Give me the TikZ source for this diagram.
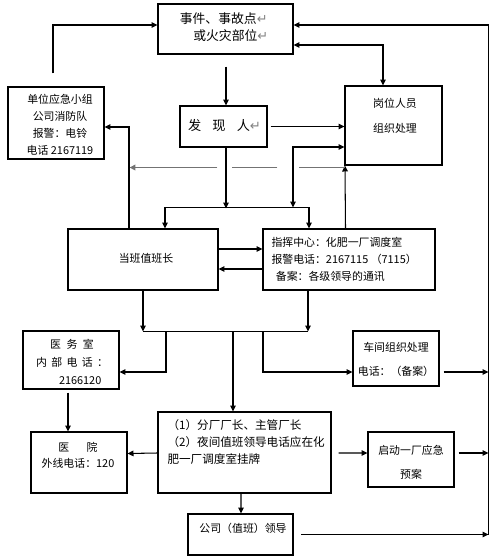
\documentclass[tikz,border=0pt]{standalone}
\usepackage{fontspec}
\setmainfont{Noto Sans CJK SC}
\newfontfamily\symfont{DejaVu Sans}
\usepackage{tikz}
\usetikzlibrary{arrows.meta,calc}
\newcommand{\retmark}{{\symfont\color{gray}↵}}

\begin{document}
\begin{tikzpicture}[x=0.02cm, y=-0.02cm, line width=0.6pt,
    >={Triangle[length=3.4pt,width=3.2pt]},
    box/.style={draw, line width=0.6pt, inner sep=0pt},
    big/.style={font=\fontsize{7.3}{9.6}\selectfont, align=left, inner sep=0pt},
    lbl/.style={font=\fontsize{6.2}{9.7}\selectfont, align=center, inner sep=0pt}]
  \useasboundingbox (0,0) rectangle (495,560);

  % Define nodes
  \node[box, minimum width=2.70cm, minimum height=1.00cm] (top) at (225.5,29) {};
  \node[box, minimum width=1.74cm, minimum height=0.82cm] (faxian) at (223.5,126.5) {};
  \node[box, minimum width=1.92cm, minimum height=1.44cm] (danwei) at (56,123) {};
  \node[box, minimum width=1.94cm, minimum height=1.58cm] (gangwei) at (393.5,125.5) {};
  \node[box, minimum width=3.00cm, minimum height=1.22cm] (dangban) at (143,259.5) {};
  \node[box, minimum width=3.44cm, minimum height=1.22cm] (zhihui) at (349,259.5) {};
  \node[box, minimum width=1.92cm, minimum height=1.16cm] (yiwu) at (71,360) {};
  \node[box, minimum width=1.72cm, minimum height=1.10cm] (chejian) at (396,358.5) {};
  \node[box, minimum width=1.92cm, minimum height=1.22cm] (yiyuan) at (79,462.5) {};
  \node[box, minimum width=3.46cm, minimum height=1.62cm] (lingdao) at (244.5,452.5) {};
  \node[box, minimum width=1.72cm, minimum height=1.10cm] (qidong) at (411,459.5) {};
  \node[box, minimum width=2.10cm, minimum height=0.82cm] (gongsi) at (240.5,534.5) {};

  % Texts
  \node[big] (t-top) at (224,27) {事件、事故点\retmark\\\hspace{1.05em}或火灾部位\retmark};
  \node[big, font=\fontsize{7.5}{9}\selectfont] (t-faxian) at (224.5,125) {发\hspace{0.85em}现\hspace{0.85em}人\retmark};
  \node[lbl] (t-danwei) at (60,125) {单位应急小组\\公司消防队\\报警：电铃\\电话 2167119};
  \node[lbl, font=\fontsize{6.2}{14}\selectfont] (t-gangwei) at (395,116) {岗位人员\\组织处理};
  \node[lbl] (t-dangban) at (146,258) {当班值班长};
  \node[lbl, align=left, anchor=west] (t-zhihui) at (271,259) {指挥中心：化肥一厂调度室\\报警电话：2167115 （7115）\\\hspace{0.4em}备案：各级领导的通讯};
  \node[lbl, font=\fontsize{6.2}{10.2}\selectfont] (t-yiwu) at (72,362) {医\hspace{0.5em}务\hspace{0.5em}室\\内\hspace{0.4em}部\hspace{0.4em}电\hspace{0.4em}话\hspace{0.4em}：\\\hspace{1.5em}2166120};
  \node[lbl, font=\fontsize{6.2}{14}\selectfont] (t-chejian) at (396,359.5) {车间组织处理\\电话：（备案）};
  \node[lbl, font=\fontsize{6.2}{9}\selectfont] (t-yiyuan) at (78,455) {医\hspace{1.6em}院\\外线电话：120};
  \node[lbl, align=left, anchor=west, font=\fontsize{6.6}{9.9}\selectfont] (t-lingdao) at (167,442) {（1）分厂厂长、主管厂长\\（2）夜间值班领导电话应在化\\肥一厂调度室挂牌};
  \node[lbl, font=\fontsize{6.2}{14}\selectfont] (t-qidong) at (411,462.5) {启动一厂应急\\预案};
  \node[lbl] (t-gongsi) at (243,528) {公司（值班）领导};

  % Draw edges
  \draw[->] ($(danwei.north)+(-3,-13)$) |- ($(top.west)+(0,-4)$);
  \draw[->] ($(top.south)+(0.5,12)$) -- ($(faxian.north)+(2.5,0)$);
  \draw[<->] ($(top.east)+(0,16)$) -| ($(gangwei.north)+(-10.5,0)$);
  \draw[->, shorten <=1.7pt] (faxian.east) -- (faxian.east -| gangwei.west);
  \draw[<->] ($(gangwei.west)+(0,21.5)$) -| ($(zhihui.north)+(-56,-21)$);
  \draw[->] ($(faxian.south)+(2.5,0)$) -- ($(faxian.south)+(2.5,61)$);
  \draw[<->] ($(dangban.north)+(22,0)$) -- ++(0,-21) -| ($(zhihui.north)+(-40,0)$);
  \draw[->] ($(zhihui.north)+(-3.5,0)$) -- ($(gangwei.south west)+(0.5,0)$);
  \coordinate (cross) at ($(gangwei.south west)+(0.5,2)$);
  \draw[->, black!55, line width=1pt] (cross) -- ++(-45.5,0) ++(-22,0) -- ++(-45,0) ++(-15,0) -- ++(-88,0);
  \draw[->] ($(dangban.north)+(-14,0)$) |- ($(danwei.east)+(0,4)$);
  \draw[->] ($(dangban.east)+(0,-10.5)$) -- ($(zhihui.west)+(0,-10.5)$);
  \draw[->] ($(zhihui.west)+(0,9.5)$) -- ($(dangban.east)+(0,9.5)$);
  \draw[->] (dangban.south) -- ++(0,41);
  \draw[->] ($(zhihui.south)+(-41,0)$) -- ++(0,41);
  \draw ($(dangban.south)+(0,41)$) -- ($(zhihui.south)+(-41,41)$);
  \draw[->] ($(dangban.south)+(23,41)$) |- ($(yiwu.east)+(0,12)$);
  \draw[->] ($(dangban.south)+(90,41)$) -- ($(lingdao.north)+(-11.5,0)$);
  \draw[->] ($(dangban.south)+(120,41)$) |- ($(chejian.west)+(0,13.5)$);
  \draw[->, shorten <=2.3pt] ($(chejian.east)+(0,13.5)$) -- ++(49,0);
  \draw[->, shorten <=1.7pt] ($(yiwu.south)+(-3,0)$) -- ($(yiyuan.north)+(-11,0)$);
  \draw[->] ($(lingdao.west)+(0,0.5)$) -- ($(yiyuan.east)+(0,-9)$);
  \draw[->, shorten <=4pt] ($(lingdao.east)+(0,0.5)$) -- ($(qidong.west)+(0,-6.5)$);
  \draw[->, shorten <=2.3pt] ($(qidong.east)+(0,-6.5)$) -- ++(34,0);
  \draw[->] ($(lingdao.south)+(-3.5,0)$) -- ($(gongsi.north)+(0.5,0)$);
  \draw[->, shorten <=4.5pt] (gongsi.east) -- ++(195,0);
  \draw[->] ($(gongsi.east)+(195,0)$) |- ($(top.east)+(0,-4)$);
\end{tikzpicture}
\end{document}
